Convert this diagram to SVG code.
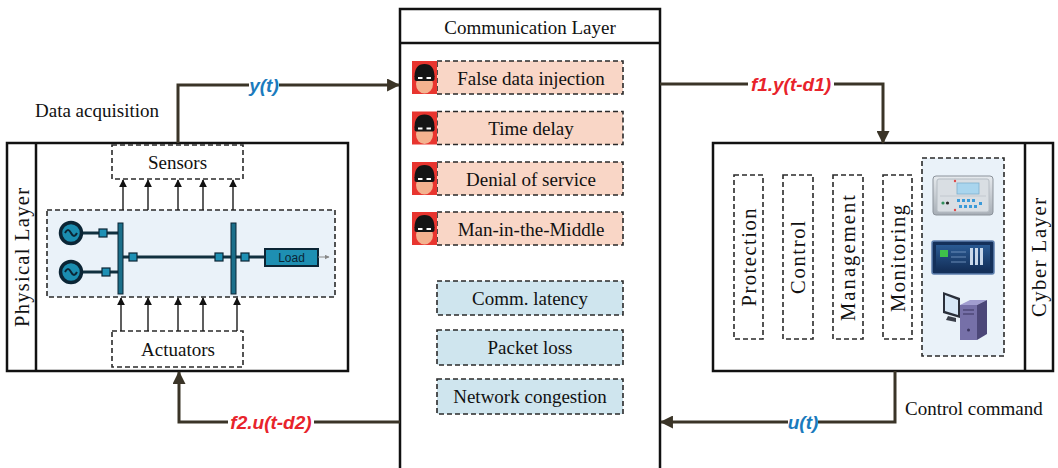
<svg xmlns="http://www.w3.org/2000/svg" width="1058" height="468" viewBox="0 0 1058 468">
  <style>
    .serif { font-family: "Liberation Serif", "Times New Roman", serif; font-size: 19px; fill: #111; }
    .rot { font-size: 20.5px; }
    .mid { text-anchor: middle; }
    .frame { fill: #fff; stroke: #111; stroke-width: 2.5; }
    .dash { stroke: #2a2a2a; stroke-width: 1.6; stroke-dasharray: 5 3; }
    .attack { fill: #f9d6c6; }
    .issue { fill: #cfe5ee; }
    .vbox { fill: #fff; }
    .wire { fill: none; stroke: #3a3427; stroke-width: 3; }
    .sig { fill: none; stroke: #1a1a1a; stroke-width: 1.4; }
    .lbl { font-family: "Liberation Sans", Arial, sans-serif; font-size: 19px; font-weight: bold; font-style: italic; text-anchor: middle; }
    .blue { fill: #1b7bbd; }
    .red { fill: #e8232b; }
    .gridline { stroke: #10303f; stroke-width: 3; }
    .breaker { fill: #1e90b4; stroke: #0b2535; stroke-width: 1.2; }
    .bus { fill: #1b6f8a; stroke: #0b2535; stroke-width: 1; }
    .gen { fill: #1b8db0; stroke: #0b2535; stroke-width: 3.5; }
  </style>
  <defs>
    <marker id="arrow" viewBox="0 0 12 12" refX="11" refY="6" markerWidth="13" markerHeight="13" markerUnits="userSpaceOnUse" orient="auto">
      <path d="M0,0 L12,6 L0,12 Z" fill="#3a3427"/>
    </marker>
    <marker id="tip" viewBox="0 0 10 10" refX="9" refY="5" markerWidth="8" markerHeight="9" markerUnits="userSpaceOnUse" orient="auto">
      <path d="M0,0 L10,5 L0,10 Z" fill="#111"/>
    </marker>
    <marker id="tinyTip" viewBox="0 0 10 10" refX="9" refY="5" markerWidth="5" markerHeight="5" markerUnits="userSpaceOnUse" orient="auto">
      <path d="M0,0 L10,5 L0,10 Z" fill="#888"/>
    </marker>
    <linearGradient id="metal" x1="0" y1="0" x2="0" y2="1">
      <stop offset="0" stop-color="#e6eaee"/>
      <stop offset="1" stop-color="#a7aeb6"/>
    </linearGradient>
    <linearGradient id="navy" x1="0" y1="0" x2="0" y2="1">
      <stop offset="0" stop-color="#2a5a93"/>
      <stop offset="1" stop-color="#14305a"/>
    </linearGradient>
    <!-- masked attacker badge -->
    <g id="hacker">
      <rect x="0" y="0" width="25" height="33" fill="#e8352f"/>
      <ellipse cx="12.5" cy="23" rx="8.5" ry="9.5" fill="#f4b28f"/>
      <path d="M2.5,16 Q2.5,3 12.5,3 Q22.5,3 22.5,16 Z" fill="#141414"/>
      <rect x="2.5" y="14" width="20" height="6" rx="2" fill="#141414"/>
      <rect x="6" y="16" width="4.5" height="2" fill="#fff"/>
      <rect x="14.5" y="16" width="4.5" height="2" fill="#fff"/>
    </g>
  </defs>

  <!-- Physical layer -->
  <g id="physical-layer">
    <rect class="frame" x="7" y="143" width="341" height="228"/>
    <line x1="36" y1="143" x2="36" y2="371" stroke="#111" stroke-width="2.5"/>
    <text class="serif rot mid" transform="translate(28.5,257.5) rotate(-90)" textLength="139" lengthAdjust="spacing">Physical Layer</text>
  </g>

  <g id="sensors">
    <rect class="vbox dash" x="112" y="145" width="131" height="34"/>
    <text class="serif mid" x="177.5" y="169">Sensors</text>
  </g>

  <g id="actuators">
    <rect class="vbox dash" x="112" y="331" width="131" height="36"/>
    <text class="serif mid" x="178" y="356">Actuators</text>
  </g>

  <g id="power-grid">
    <rect class="dash" x="47" y="210" width="288" height="87" fill="#eaf2f9"/>
    <line class="gridline" x1="81" y1="233" x2="120" y2="233"/>
    <line class="gridline" x1="81" y1="272" x2="120" y2="272"/>
    <line class="gridline" x1="123" y1="257" x2="231" y2="257"/>
    <line class="gridline" x1="236" y1="257" x2="266" y2="257"/>
    <circle class="gen" cx="71" cy="233" r="10.5"/>
    <path d="M65,233 q3,-6 6,0 t6,0" fill="none" stroke="#0b2535" stroke-width="2"/>
    <circle class="gen" cx="71" cy="272" r="10.5"/>
    <path d="M65,272 q3,-6 6,0 t6,0" fill="none" stroke="#0b2535" stroke-width="2"/>
    <rect class="breaker" x="99" y="229" width="8" height="8"/>
    <rect class="breaker" x="102" y="268" width="8" height="8"/>
    <rect class="bus" x="118" y="223" width="5" height="71"/>
    <rect class="bus" x="231" y="223" width="5" height="71"/>
    <rect class="breaker" x="129" y="253" width="8" height="8"/>
    <rect class="breaker" x="215" y="253" width="8" height="8"/>
    <rect class="breaker" x="241" y="253" width="8" height="8"/>
    <rect x="265" y="249" width="53" height="17" fill="#1e8fb2" stroke="#0b2535" stroke-width="2"/>
    <text x="291.5" y="262" text-anchor="middle" font-family="Liberation Sans, Arial, sans-serif" font-size="12" fill="#0b2535">Load</text>
    <line x1="318" y1="257" x2="329" y2="257" stroke="#888" stroke-width="1" marker-end="url(#tinyTip)"/>
  </g>

  <!-- Communication layer -->
  <g id="communication-layer">
    <rect class="frame" x="400" y="9" width="260" height="475"/>
    <line x1="400" y1="43" x2="660" y2="43" stroke="#111" stroke-width="2.5"/>
    <text class="serif mid" x="530" y="34">Communication Layer</text>
  </g>

  <g id="false-data-injection">
    <rect class="attack dash" x="437" y="61" width="186" height="33"/>
    <use href="#hacker" x="412" y="61"/>
    <text class="serif mid" x="531" y="84.5">False data injection</text>
  </g>
  <g id="time-delay">
    <rect class="attack dash" x="437" y="111.5" width="186" height="33"/>
    <use href="#hacker" x="412" y="111.5"/>
    <text class="serif mid" x="531" y="135">Time delay</text>
  </g>
  <g id="denial-of-service">
    <rect class="attack dash" x="437" y="162" width="186" height="33"/>
    <use href="#hacker" x="412" y="162"/>
    <text class="serif mid" x="531" y="185.5">Denial of service</text>
  </g>
  <g id="man-in-the-middle">
    <rect class="attack dash" x="437" y="212" width="186" height="33"/>
    <use href="#hacker" x="412" y="212"/>
    <text class="serif mid" x="531" y="235.5">Man-in-the-Middle</text>
  </g>

  <g id="comm-latency">
    <rect class="issue dash" x="437" y="281" width="186" height="34"/>
    <text class="serif mid" x="530" y="304.5">Comm. latency</text>
  </g>
  <g id="packet-loss">
    <rect class="issue dash" x="437" y="330" width="186" height="35"/>
    <text class="serif mid" x="530" y="354">Packet loss</text>
  </g>
  <g id="network-congestion">
    <rect class="issue dash" x="437" y="379" width="186" height="35"/>
    <text class="serif mid" x="530" y="403">Network congestion</text>
  </g>

  <!-- Cyber layer -->
  <g id="cyber-layer">
    <rect class="frame" x="713" y="143" width="340" height="228"/>
    <line x1="1025" y1="143" x2="1025" y2="371" stroke="#111" stroke-width="2.5"/>
    <text class="serif rot mid" transform="translate(1046,257.5) rotate(-90)" textLength="119" lengthAdjust="spacing">Cyber Layer</text>
  </g>

  <g id="protection">
    <rect class="vbox dash" x="734" y="175" width="29" height="164"/>
    <text class="serif rot mid" transform="translate(755.5,257.5) rotate(-90)" textLength="98" lengthAdjust="spacing">Protection</text>
  </g>
  <g id="control">
    <rect class="vbox dash" x="783" y="175" width="30" height="164"/>
    <text class="serif rot mid" transform="translate(805,257.5) rotate(-90)" textLength="73" lengthAdjust="spacing">Control</text>
  </g>
  <g id="management">
    <rect class="vbox dash" x="833" y="175" width="30" height="164"/>
    <text class="serif rot mid" transform="translate(855,258) rotate(-90)" textLength="126" lengthAdjust="spacing">Management</text>
  </g>
  <g id="monitoring">
    <rect class="vbox dash" x="883" y="175" width="29" height="164"/>
    <text class="serif rot mid" transform="translate(904.5,258.5) rotate(-90)" textLength="107" lengthAdjust="spacing">Monitoring</text>
  </g>

  <g id="devices">
    <rect class="dash" x="922" y="158" width="82" height="198" fill="#eaf2f9"/>
    <!-- protection relay -->
    <rect x="933" y="176" width="60" height="39" rx="3" fill="url(#metal)" stroke="#8c939b"/>
    <rect x="937" y="179" width="52" height="33" rx="2" fill="#d9dee3" stroke="#b5bcc3"/>
    <rect x="957" y="183" width="22" height="11" fill="#a9d5ee" stroke="#7fb0cc" stroke-width="0.8"/>
    <line x1="940" y1="196" x2="986" y2="196" stroke="#bcc3ca" stroke-width="0.8"/>
    <circle cx="955" cy="181" r="1.2" fill="#e04848"/>
    <circle cx="955" cy="210" r="1.2" fill="#e04848"/>
    <circle cx="943" cy="203" r="1.6" fill="#2f8f5a"/>
    <circle cx="947.5" cy="203" r="1.6" fill="#2b2b2b"/>
    <g fill="#3a9ad9">
      <rect x="957" y="199" width="3" height="3"/>
      <rect x="962" y="199" width="3" height="3"/>
      <rect x="967" y="199" width="3" height="3"/>
      <rect x="972" y="199" width="3" height="3"/>
      <rect x="959" y="205" width="3" height="3"/>
      <rect x="964" y="205" width="3" height="3"/>
      <rect x="969" y="205" width="3" height="3"/>
      <rect x="974" y="205" width="3" height="3"/>
      <rect x="979" y="202" width="3" height="3"/>
    </g>
    <!-- controller panel -->
    <rect x="932" y="241" width="62" height="33" rx="2" fill="#14305a" stroke="#5d7fae" stroke-width="1.5"/>
    <rect x="936" y="245" width="54" height="25" fill="url(#navy)"/>
    <rect x="940" y="250" width="8" height="7" fill="#3fc24a"/>
    <g fill="#c9d8ea">
      <rect x="970" y="248" width="3" height="17"/>
      <rect x="975" y="248" width="3" height="17"/>
      <rect x="980" y="248" width="3" height="17"/>
    </g>
    <g stroke="#7fa0c8" stroke-width="0.8">
      <line x1="951" y1="252" x2="966" y2="252"/>
      <line x1="951" y1="257" x2="966" y2="257"/>
      <line x1="951" y1="262" x2="966" y2="262"/>
    </g>
    <!-- workstation -->
    <polygon points="943,292 960,298 960,318 943,313" fill="#2a2f3a"/>
    <polygon points="945,295 958,300 958,315 945,311" fill="#d6e7f6"/>
    <polygon points="948,316 956,318 956,322 946,320" fill="#3a3f4a"/>
    <polygon points="960,305 970,300 987,300 977,305" fill="#a19dd0"/>
    <rect x="960" y="305" width="17" height="35" fill="#7670a8"/>
    <polygon points="977,305 987,300 987,334 977,340" fill="#4c4778"/>
    <g stroke="#3a3560" stroke-width="1">
      <line x1="963" y1="310" x2="974" y2="310"/>
      <line x1="963" y1="314" x2="974" y2="314"/>
    </g>
    <circle cx="968.5" cy="330" r="1.5" fill="#3a3560"/>
  </g>

  <!-- Connectors and signal labels -->
  <g id="connectors">
    <!-- sensing paths grid -> sensors -->
    <line class="sig" x1="123" y1="210" x2="123" y2="180" marker-end="url(#tip)"/>
    <line class="sig" x1="148" y1="210" x2="148" y2="180" marker-end="url(#tip)"/>
    <line class="sig" x1="178" y1="210" x2="178" y2="180" marker-end="url(#tip)"/>
    <line class="sig" x1="203" y1="210" x2="203" y2="180" marker-end="url(#tip)"/>
    <line class="sig" x1="233" y1="210" x2="233" y2="180" marker-end="url(#tip)"/>
    <!-- actuation paths actuators -> grid -->
    <line class="sig" x1="121" y1="331" x2="121" y2="298" marker-end="url(#tip)"/>
    <line class="sig" x1="148" y1="331" x2="148" y2="298" marker-end="url(#tip)"/>
    <line class="sig" x1="178" y1="331" x2="178" y2="298" marker-end="url(#tip)"/>
    <line class="sig" x1="203" y1="331" x2="203" y2="298" marker-end="url(#tip)"/>
    <line class="sig" x1="237" y1="331" x2="237" y2="298" marker-end="url(#tip)"/>

    <path class="wire" d="M178,143 V85 H399" marker-end="url(#arrow)"/>
    <path class="wire" d="M660,84 H883 V143" marker-end="url(#arrow)"/>
    <path class="wire" d="M895,371 V422 H661" marker-end="url(#arrow)"/>
    <path class="wire" d="M400,422 H179 V372" marker-end="url(#arrow)"/>

    <rect x="249" y="74" width="30" height="22" fill="#fff"/>
    <text class="lbl blue" x="264" y="92">y(t)</text>
    <rect x="748" y="73" width="86" height="22" fill="#fff"/>
    <text class="lbl red" x="791" y="91">f1.y(t-d1)</text>
    <rect x="788" y="411" width="30" height="22" fill="#fff"/>
    <text class="lbl blue" x="803" y="429">u(t)</text>
    <rect x="228" y="411" width="86" height="22" fill="#fff"/>
    <text class="lbl red" x="271" y="429">f2.u(t-d2)</text>

    <text class="serif" x="35" y="117">Data acquisition</text>
    <text class="serif" x="905" y="415">Control command</text>
  </g>
</svg>
